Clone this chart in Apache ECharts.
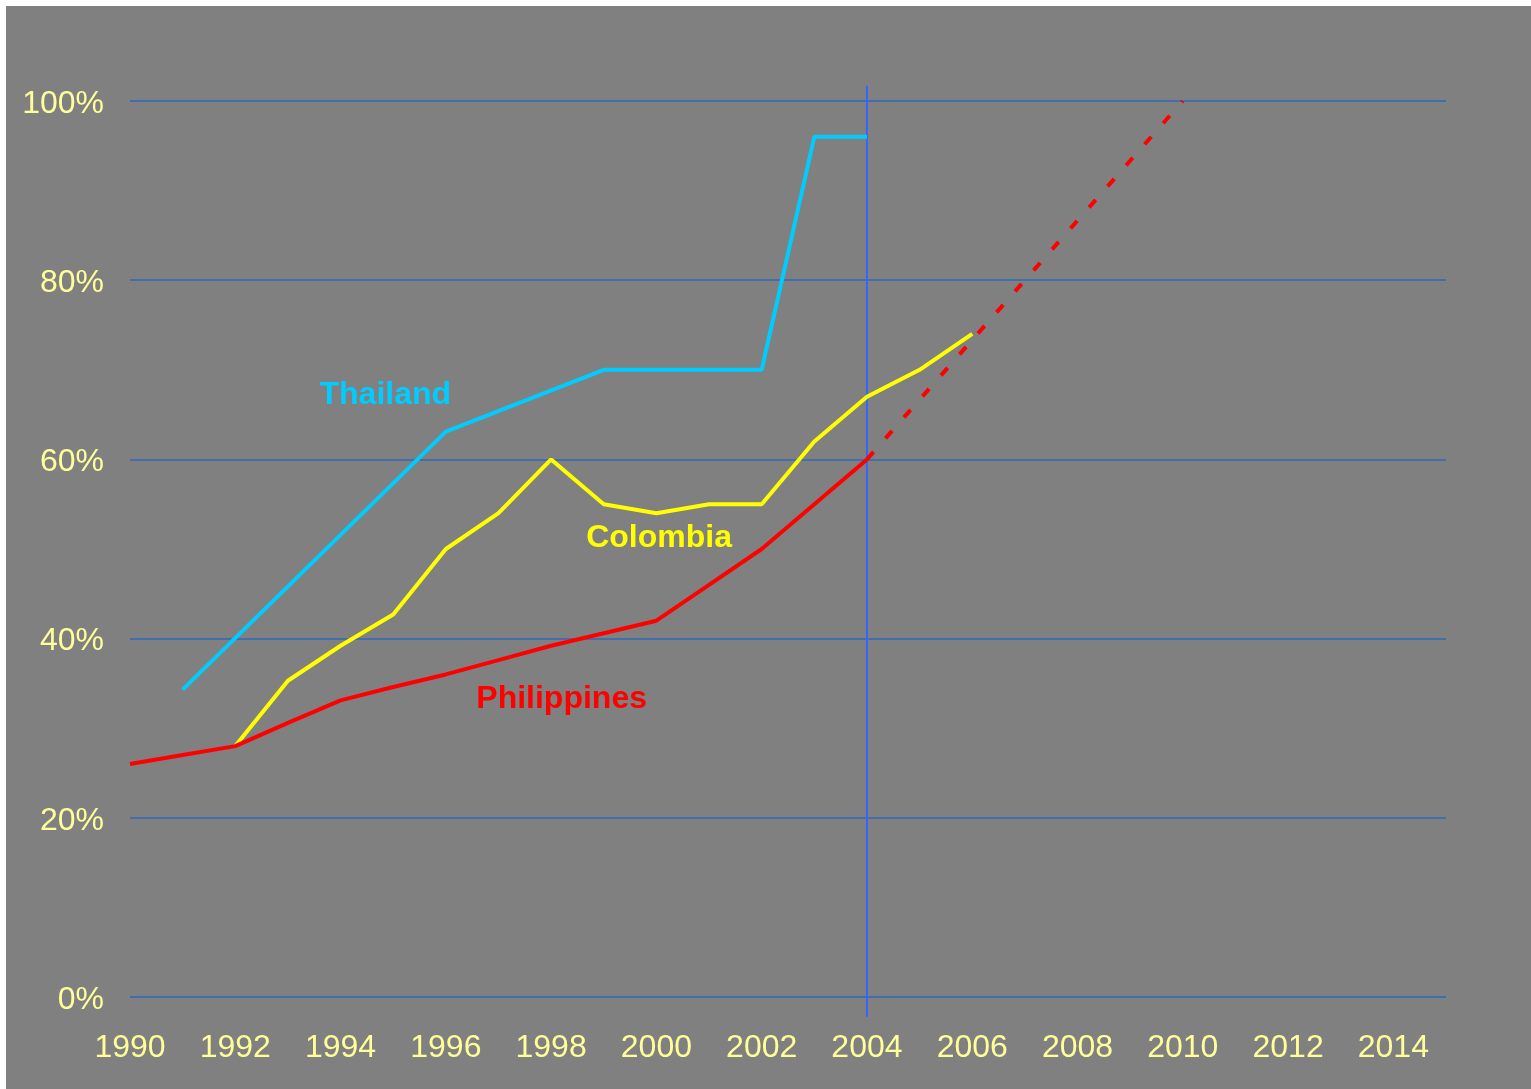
<!DOCTYPE html>
<html>
<head>
<meta charset="utf-8">
<script src="https://cdn.jsdelivr.net/npm/echarts@6/dist/echarts.min.js"></script>
<style>
  html, body { margin: 0; padding: 0; background: #ffffff; }
  #chart { position: absolute; left: 6px; top: 6px; width: 1525px; height: 1083px; }
</style>
</head>
<body>
<div id="chart"></div>
<script>
// Share of coverage (%) by year for each country
const thailand = [[1991, 34.3], [1996, 63.1], [1999, 70], [2000, 70], [2001, 70], [2002, 70], [2003, 96], [2004, 96]];
const colombia = [[1992, 28], [1993, 35.3], [1994, 39.2], [1995, 42.7], [1996, 50], [1997, 54], [1998, 60], [1999, 55],
                  [2000, 54], [2001, 55], [2002, 55], [2003, 62], [2004, 67], [2005, 70], [2006, 74]];
const philippines = [[1990, 26], [1991, 27], [1992, 28], [1993, 30.6], [1994, 33.1], [1995, 34.6], [1996, 36],
                     [1997, 37.6], [1998, 39.2], [1999, 40.6], [2000, 42], [2001, 46], [2002, 50], [2003, 55], [2004, 60]];
// Projected trend for the Philippines
const philippinesProjection = [[2004, 60], [2010, 100]];
// Reference year marker
const markerYear = [[2004, -2.2], [2004, 101.7]];

// Series name labels: [year, value, text]
const thailandLabel = [1994.85, 67.15, 'Thailand'];
const colombiaLabel = [2000.05, 51.2, 'Colombia'];
const philippinesLabel = [1998.2, 33.2, 'Philippines'];

const tickColor = '#ffff99';
const font = 'Arial, "Liberation Sans", sans-serif';

function nameTag(lbl, color) {
  return {
    symbol: 'rect',
    symbolSize: 1,
    silent: true,
    itemStyle: { color: 'rgba(0,0,0,0)' },
    label: {
      show: true, position: 'inside', formatter: lbl[2],
      color: color, fontSize: 32, fontWeight: 'bold', fontFamily: font
    },
    data: [{ coord: [lbl[0], lbl[1]] }]
  };
}

const chart = echarts.init(document.getElementById('chart'), null, { renderer: 'canvas' });
chart.setOption({
  backgroundColor: '#808080',
  animation: false,
  grid: { left: 124, top: 95, right: 85, bottom: 92, containLabel: false },
  xAxis: {
    type: 'value', min: 1990, max: 2015, interval: 2,
    axisLine: { show: false }, axisTick: { show: false }, splitLine: { show: false },
    axisLabel: {
      color: tickColor, fontSize: 32, fontFamily: font, margin: 35, showMaxLabel: false,
      formatter: v => String(v)
    }
  },
  yAxis: {
    type: 'value', min: 0, max: 100, interval: 20,
    axisLine: { show: false }, axisTick: { show: false },
    splitLine: { lineStyle: { color: '#2f68bb', width: 1.5 } },
    axisLabel: {
      margin: 26,
      formatter: v => '{t|' + v + '%}',
      rich: { t: { color: tickColor, fontSize: 32, fontFamily: font, padding: [6, 0, 0, 0] } }
    }
  },
  series: [
    {
      name: 'marker', type: 'line', data: markerYear, clip: false, symbol: 'none', silent: true,
      lineStyle: { color: '#3366ff', width: 2 }, z: 1
    },
    {
      name: 'Philippines projection', type: 'line', data: philippinesProjection, symbol: 'none',
      lineStyle: { color: '#ff0000', width: 4, type: [10, 18], cap: 'butt' }, z: 3
    },
    {
      name: 'Thailand', type: 'line', data: thailand, symbol: 'none',
      lineStyle: { color: '#00ccff', width: 4 }, z: 3,
      markPoint: nameTag(thailandLabel, '#00ccff')
    },
    {
      name: 'Colombia', type: 'line', data: colombia, symbol: 'none',
      lineStyle: { color: '#ffff00', width: 4 }, z: 4,
      markPoint: nameTag(colombiaLabel, '#ffff00')
    },
    {
      name: 'Philippines', type: 'line', data: philippines, symbol: 'none',
      lineStyle: { color: '#ff0000', width: 4 }, z: 5,
      markPoint: nameTag(philippinesLabel, '#ff0000')
    }
  ]
});
</script>
</body>
</html>
